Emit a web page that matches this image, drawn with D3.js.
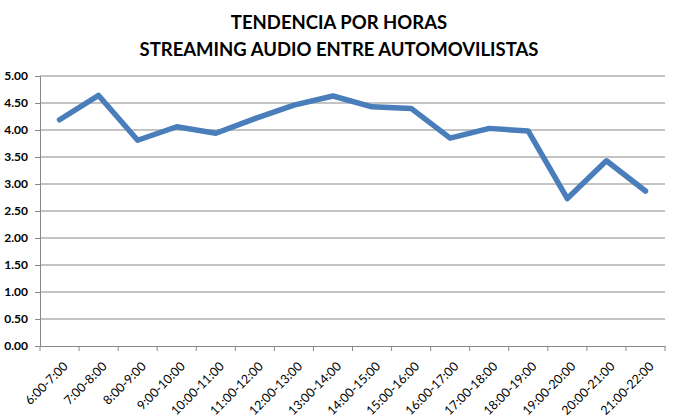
<!DOCTYPE html>
<html><head><meta charset="utf-8">
<script src="https://cdn.jsdelivr.net/npm/d3@7"></script>
<style>body{margin:0;background:#fff}svg{display:block}</style>
</head><body>
<script>
const categories = ["6:00-7:00","7:00-8:00","8:00-9:00","9:00-10:00","10:00-11:00","11:00-12:00","12:00-13:00","13:00-14:00","14:00-15:00","15:00-16:00","16:00-17:00","17:00-18:00","18:00-19:00","19:00-20:00","20:00-21:00","21:00-22:00"];
const values = [4.19,4.64,3.81,4.06,3.94,4.21,4.46,4.63,4.43,4.40,3.85,4.03,3.98,2.73,3.43,2.87];
const yTicks = [0,0.5,1,1.5,2,2.5,3,3.5,4,4.5,5];
const titleLines = ["TENDENCIA POR HORAS","STREAMING AUDIO ENTRE AUTOMOVILISTAS"];

const W=678,H=420;
const m={left:40,right:13,top:76,bottom:74};
const svg=d3.select("body").append("svg").attr("width",W).attr("height",H);
const font="Lato, 'Open Sans', sans-serif";

const x=d3.scaleBand().domain(categories).range([m.left,W-m.right]);
const y=d3.scaleLinear().domain([0,5]).range([H-m.bottom,m.top]);

// gridlines
svg.append("g").selectAll("line").data(yTicks.slice(1)).join("line")
  .attr("x1",m.left).attr("x2",W-m.right)
  .attr("y1",d=>y(d)).attr("y2",d=>y(d))
  .attr("stroke","#888").attr("stroke-width",1);

// y axis
const ya=svg.append("g").attr("transform",`translate(${m.left},0)`)
  .call(d3.axisLeft(y).tickValues(yTicks).tickFormat(d3.format(".2f")).tickSize(5));
ya.select(".domain").attr("stroke","#888");
ya.selectAll(".tick line").attr("stroke","#888");
ya.selectAll("text").attr("font-family",font).attr("font-weight","bold").attr("font-size","12px").attr("fill","#000").attr("dx","-4");

// x axis
const xa=svg.append("g").attr("transform",`translate(0,${H-m.bottom})`)
  .call(d3.axisBottom(x).tickSize(0).tickSizeOuter(0));
xa.select(".domain").attr("stroke","#888");
xa.selectAll(".tick line").remove();
xa.selectAll(".tick text")
  .attr("font-family",font).attr("font-weight","normal").attr("font-size","12.5px").attr("fill","#000")
  .attr("text-anchor","end").attr("dx","0").attr("dy","0")
  .attr("transform","translate(7,19) rotate(-45)");
// category boundary ticks
const bounds=categories.map(c=>x(c)).concat([x(categories[categories.length-1])+x.bandwidth()]);
svg.append("g").selectAll("line").data(bounds).join("line")
  .attr("x1",d=>d).attr("x2",d=>d)
  .attr("y1",H-m.bottom).attr("y2",H-m.bottom+5)
  .attr("stroke","#888");

// line
const line=d3.line().x((d,i)=>x(categories[i])+x.bandwidth()/2).y(d=>y(d));
svg.append("path").datum(values).attr("d",line)
  .attr("fill","none").attr("stroke","#4a7ebb").attr("stroke-width",5.5)
  .attr("stroke-linejoin","round").attr("stroke-linecap","round");

// title
svg.append("g").selectAll("text").data(titleLines).join("text")
  .attr("x",339).attr("y",(d,i)=>29+i*27)
  .attr("text-anchor","middle")
  .attr("font-family",font).attr("font-weight","bold").attr("font-size","18.5px").attr("fill","#000")
  .text(d=>d);
</script>
</body></html>
